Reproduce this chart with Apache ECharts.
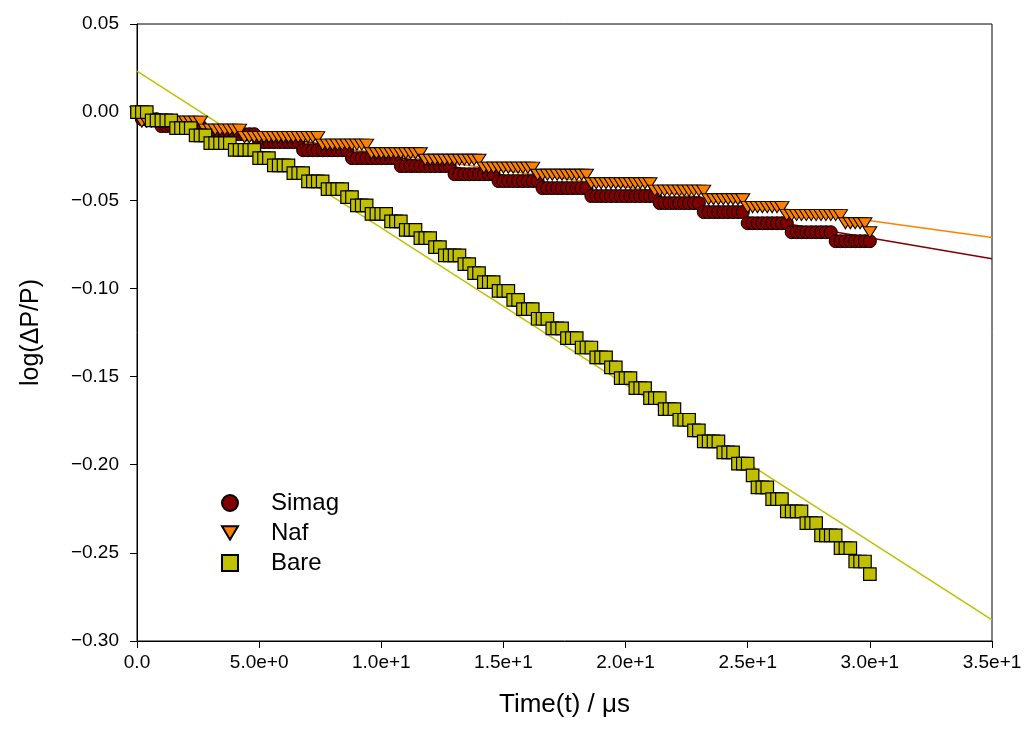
<!DOCTYPE html>
<html>
<head>
<meta charset="utf-8">
<script src="https://cdn.jsdelivr.net/npm/echarts@6/dist/echarts.min.js"></script>
<style>
  html, body { margin: 0; padding: 0; background: #fff; }
  #chart { width: 1031px; height: 749px; }
</style>
</head>
<body>
<div id="chart"></div>
<script>
// Sample times of the recorded decay (µs)
const sampleStep = 0.2;
const sampleCount = 151;

// Each series is a staircase: the level held from each start time onward
const simagStart = [0, 0.2, 1.0, 2.8, 5.0, 6.8, 8.8, 10.8, 13.0, 14.8, 16.6, 18.6, 21.4, 23.2, 25.0, 26.8, 28.6];
const simagLevel = [0, -0.0040, -0.0079, -0.0125, -0.0170, -0.0216, -0.0261, -0.0306, -0.0352, -0.0391,
                    -0.0431, -0.0476, -0.0516, -0.0567, -0.0630, -0.0681, -0.0732];

const nafStart = [0, 0.2, 2.8, 4.4, 7.6, 9.6, 11.8, 14.2, 16.4, 18.6, 21.2, 23.4, 25.0, 26.6, 29.0, 30.0];
const nafLevel = [0, -0.0054, -0.0099, -0.0142, -0.0184, -0.0233, -0.0270, -0.0315, -0.0355, -0.0403,
                  -0.0445, -0.0494, -0.0539, -0.0584, -0.0630, -0.0681];

const bareStart = [0, 0.6, 1.6, 2.4, 3.0, 4.0, 5.0, 5.6, 6.4, 7.0, 7.8, 8.6, 9.0, 9.6, 10.4, 11.0, 11.6,
                   12.2, 12.6, 13.4, 13.8, 14.2, 14.8, 15.4, 15.8, 16.4, 17.0, 17.6, 18.2, 18.8, 19.4,
                   19.8, 20.4, 21.0, 21.6, 22.2, 22.8, 23.2, 24.0, 24.6, 25.2, 25.4, 26.0, 26.6, 27.4,
                   28.0, 28.8, 29.4, 30.0];
const bareLevel = [0, -0.0047, -0.0091, -0.0132, -0.0176, -0.0214, -0.0261, -0.0302, -0.0346, -0.0393,
                   -0.0437, -0.0482, -0.0529, -0.0577, -0.0620, -0.0668, -0.0715, -0.0766, -0.0813,
                   -0.0862, -0.0913, -0.0964, -0.1014, -0.1065, -0.1117, -0.1172, -0.1227, -0.1282,
                   -0.1335, -0.1391, -0.1448, -0.1509, -0.1566, -0.1622, -0.1685, -0.1745, -0.1805,
                   -0.1868, -0.1930, -0.1994, -0.2061, -0.2129, -0.2195, -0.2265, -0.2331, -0.2401,
                   -0.2473, -0.2549, -0.2621];

// Linear fits, evaluated at the two ends of the time axis
const fitTime = [0, 35];
const simagFit = [-0.0003, -0.0832];
const nafFit = [-0.0043, -0.0711];
const bareFit = [0.0233, -0.2880];

// Axis ticks
const xTicks = { min: 0, max: 35, interval: 5 };
const yTicks = { min: -0.30, max: 0.05, interval: 0.05 };

const times = [];
for (let i = 0; i < sampleCount; i++) times.push(Math.round(i * sampleStep * 10) / 10);

function staircase(starts, levels) {
  return times.map(function (t) {
    let j = 0;
    for (let k = 0; k < starts.length; k++) if (starts[k] <= t + 1e-6) j = k;
    return [t, levels[j]];
  });
}
function fitLine(values) {
  return fitTime.map(function (t, i) { return [t, values[i]]; });
}

const FONT = '"Liberation Sans", Arial, sans-serif';
const downTriangle = 'path://M0,0 L12,0 L6,10 Z';

const chart = echarts.init(document.getElementById('chart'), null, { renderer: 'canvas' });
chart.setOption({
  animation: false,
  backgroundColor: '#fff',
  textStyle: { fontFamily: FONT, color: '#000' },
  grid: { left: 137, right: 39, top: 24, bottom: 108, show: true, borderColor: '#000', borderWidth: 1 },
  legend: {
    data: ['Simag', 'Naf', 'Bare'],
    orient: 'vertical',
    left: 216,
    top: 486,
    itemWidth: 16,
    itemHeight: 16,
    itemGap: 6,
    selectedMode: false,
    textStyle: { fontFamily: FONT, fontSize: 24, color: '#000', lineHeight: 16, padding: [0, 0, 0, 28] }
  },
  xAxis: {
    type: 'value',
    min: xTicks.min, max: xTicks.max, interval: xTicks.interval,
    name: 'Time(t) / μs',
    nameLocation: 'middle',
    nameGap: 51,
    nameTextStyle: { fontFamily: FONT, fontSize: 26, color: '#000' },
    axisLine: { onZero: false, lineStyle: { color: '#000', width: 1 } },
    axisTick: { show: true, inside: false, length: 7, lineStyle: { color: '#000' } },
    axisLabel: {
      fontFamily: FONT, fontSize: 19, color: '#000', margin: 12,
      formatter: function (v) { return v === 0 ? '0.0' : v.toExponential(1); }
    },
    splitLine: { show: false }
  },
  yAxis: {
    type: 'value',
    min: yTicks.min, max: yTicks.max, interval: yTicks.interval,
    name: 'log(ΔP/P)',
    nameLocation: 'middle',
    nameGap: 93,
    nameRotate: 90,
    nameTextStyle: { fontFamily: FONT, fontSize: 25, color: '#000' },
    axisLine: { onZero: false, lineStyle: { color: '#000', width: 1 } },
    axisTick: { show: true, inside: false, length: 7, lineStyle: { color: '#000' } },
    axisLabel: {
      fontFamily: FONT, fontSize: 19, color: '#000', margin: 18,
      formatter: function (v) {
        const s = Math.abs(v).toFixed(2);
        return (v < -1e-9 ? '\u2212' : '') + s;
      }
    },
    splitLine: { show: false }
  },
  series: [
    { name: 'Simag fit', type: 'line', data: fitLine(simagFit), symbol: 'none', z: 1,
      lineStyle: { color: '#800000', width: 1.5 } },
    { name: 'Naf fit', type: 'line', data: fitLine(nafFit), symbol: 'none', z: 1,
      lineStyle: { color: '#ff8000', width: 1.5 } },
    { name: 'Bare fit', type: 'line', data: fitLine(bareFit), symbol: 'none', z: 1,
      lineStyle: { color: '#c0c000', width: 1.5 } },
    { name: 'Simag', type: 'scatter', data: staircase(simagStart, simagLevel), z: 2,
      symbol: 'circle', symbolSize: 13,
      itemStyle: { color: '#800000', borderColor: '#000', borderWidth: 1, opacity: 1 } },
    { name: 'Naf', type: 'scatter', data: staircase(nafStart, nafLevel), z: 3,
      symbol: downTriangle, symbolSize: [14, 11],
      itemStyle: { color: '#ff8000', borderColor: '#000', borderWidth: 1, opacity: 1 } },
    { name: 'Bare', type: 'scatter', data: staircase(bareStart, bareLevel), z: 4,
      symbol: 'rect', symbolSize: 12.5,
      itemStyle: { color: '#c0c000', borderColor: '#000', borderWidth: 1.2, opacity: 1 } }
  ]
});
</script>
</body>
</html>
